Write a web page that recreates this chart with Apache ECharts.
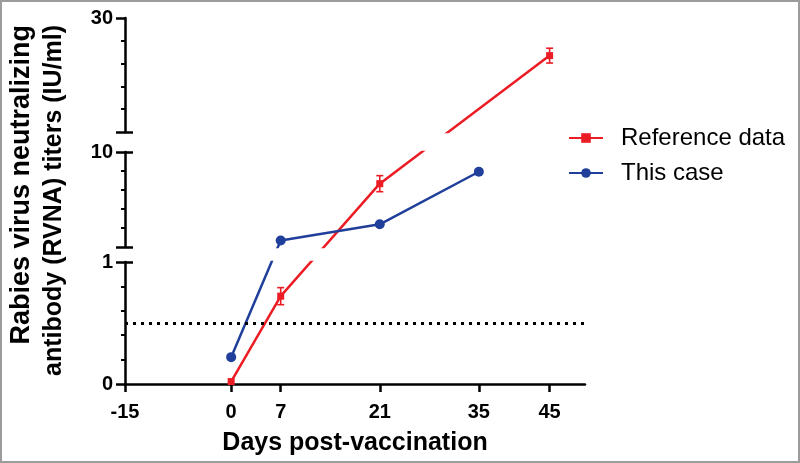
<!DOCTYPE html>
<html><head><meta charset="utf-8">
<script src="https://cdn.jsdelivr.net/npm/echarts@6/dist/echarts.min.js"></script>
<style>
html,body{margin:0;padding:0;background:#fff}
#c{width:800px;height:463px;position:relative}
#frame{position:absolute;left:0;top:0;width:800px;height:463px;box-sizing:border-box;border:2px solid #9c9c9c;pointer-events:none}
</style></head><body>
<div id="c"></div><div id="frame"></div>
<script>
// ---- data ----
const refDays = [0, 7, 21, 45];
const refValues = [0.02, 0.72, 7.0, 23.4];
const refErrors = [0, 0.07, 0.76, 1.3];
const caseDays = [0, 7, 21, 35];
const caseValues = [0.22, 1.62, 3.15, 8.13];
const threshold = 0.5;
const xTicks = [-15, 0, 7, 21, 35, 45];
const xRange = [-15, 50];
// broken y axis: segments bottom -> top (real values)
const segRanges = [[0, 1], [1, 10], [10, 30]];
const segTicks = [[0, 0.2, 0.4, 0.6, 0.8, 1], [1, 2.8, 4.6, 6.4, 8.2, 10], [10, 14, 18, 22, 26, 30]];
const segLabels = [[0, 1], [10], [30]];

// ---- layout of the broken axis ----
const plotBottom = 384, plotLeft = 125, plotWidth = 460;
const segPx = [122, 95, 114];
const gapPx = [15, 20];
const segStart = [0];
for (let k = 1; k < segPx.length; k++) segStart[k] = segStart[k - 1] + segPx[k - 1] + gapPx[k - 1];

function segDisp(k, v) {
  const [lo, hi] = segRanges[k];
  return segStart[k] + (v - lo) / (hi - lo) * segPx[k];
}
function segInv(k, d) {
  const [lo, hi] = segRanges[k];
  return lo + (d - segStart[k]) / segPx[k] * (hi - lo);
}
function toDisp(v) {
  let k = 0;
  while (k < segRanges.length - 1 && v > segRanges[k][1]) k++;
  return segDisp(k, v);
}

const FONT = '"Liberation Sans", Arial, sans-serif';
const RED = '#ec1c24', BLUE = '#1f3f9a';

const grids = [], xAxes = [], yAxes = [], series = [];
for (let k = 0; k < segPx.length; k++) {
  const top = plotBottom - segStart[k] - segPx[k];
  grids.push({left: plotLeft, width: plotWidth, top: top, height: segPx[k]});
  const isBottom = k === 0;
  xAxes.push({
    gridIndex: k, type: 'value', min: xRange[0], max: xRange[1], show: isBottom,
    position: 'bottom',
    axisLine: {onZero: false, lineStyle: {color: '#000', width: 2.5}},
    axisTick: {customValues: xTicks, length: 8, lineStyle: {color: '#000', width: 2.5}},
    axisLabel: {customValues: xTicks, margin: 18, fontSize: 20, fontWeight: 'bold', color: '#000', fontFamily: FONT},
    splitLine: {show: false},
    name: isBottom ? 'Days post-vaccination' : '',
    nameLocation: 'middle', nameGap: 47,
    nameTextStyle: {fontSize: 25, fontWeight: 'bold', color: '#000', fontFamily: FONT}
  });
  const ymin = segStart[k], ymax = segStart[k] + segPx[k];
  const minorVals = segTicks[k].slice(1, -1).map(v => segDisp(k, v));
  const labelVals = segLabels[k].map(v => segDisp(k, v));
  // main axis: line, minor ticks, labels
  yAxes.push({
    gridIndex: k, type: 'value', min: ymin, max: ymax, position: 'left',
    axisLine: {show: true, onZero: false, lineStyle: {color: '#000', width: 2.5}},
    axisTick: {show: true, customValues: minorVals, length: 4, lineStyle: {color: '#000', width: 2}},
    axisLabel: {show: true, customValues: labelVals, showMinLabel: true, showMaxLabel: true,
      formatter: (v) => String(Math.round(segInv(k, v) * 100) / 100),
      margin: 12, fontSize: 20, fontWeight: 'bold', color: '#000', fontFamily: FONT},
    splitLine: {show: false}
  });
  // long outward ticks at segment ends
  yAxes.push({
    gridIndex: k, type: 'value', min: ymin, max: ymax, position: 'left',
    axisLine: {show: false, onZero: false},
    axisTick: {show: true, customValues: [ymin, ymax], length: 9, lineStyle: {color: '#000', width: 2.5}},
    axisLabel: {show: false}, splitLine: {show: false}
  });
  // inward ticks at break ends
  const inside = [];
  if (k > 0) inside.push(ymin);
  if (k < segPx.length - 1) inside.push(ymax);
  yAxes.push({
    gridIndex: k, type: 'value', min: ymin, max: ymax, position: 'left',
    axisLine: {show: false, onZero: false},
    axisTick: {show: true, inside: true, customValues: inside, length: 8, lineStyle: {color: '#000', width: 2.5}},
    axisLabel: {show: false}, splitLine: {show: false}
  });
  const yi = 3 * k;
  const refSeries = {
    type: 'line', name: 'Reference data', xAxisIndex: k, yAxisIndex: yi,
    data: refDays.map((x, i) => [x, toDisp(refValues[i])]),
    symbol: 'rect', symbolSize: 7, showSymbol: true, clip: true, z: 3,
    itemStyle: {color: RED}, lineStyle: {color: RED, width: 2.5}
  };
  if (isBottom) {
    refSeries.markLine = {
      silent: true, symbol: 'none', label: {show: false},
      lineStyle: {color: '#000', width: 3, type: [3, 5]},
      data: [{yAxis: toDisp(threshold)}]
    };
  }
  series.push(refSeries);
  series.push({
    type: 'custom', name: 'refErr', xAxisIndex: k, yAxisIndex: yi, clip: true, z: 3,
    data: refDays.map((x, i) => [x, toDisp(refValues[i] - refErrors[i]), toDisp(refValues[i] + refErrors[i]), refErrors[i]]),
    encode: {x: 0, y: [1, 2]},
    renderItem: function (params, api) {
      if (!api.value(3)) return null;
      const x = api.value(0);
      const lo = api.coord([x, api.value(1)]);
      const hi = api.coord([x, api.value(2)]);
      const w = 3.5;
      const st = {stroke: RED, lineWidth: 1.6};
      return {type: 'group', children: [
        {type: 'line', shape: {x1: lo[0], y1: lo[1], x2: hi[0], y2: hi[1]}, style: st},
        {type: 'line', shape: {x1: lo[0] - w, y1: lo[1], x2: lo[0] + w, y2: lo[1]}, style: st},
        {type: 'line', shape: {x1: hi[0] - w, y1: hi[1], x2: hi[0] + w, y2: hi[1]}, style: st}
      ]};
    }
  });
  series.push({
    type: 'line', name: 'This case', xAxisIndex: k, yAxisIndex: yi,
    data: caseDays.map((x, i) => [x, toDisp(caseValues[i])]),
    symbol: 'circle', symbolSize: 10, showSymbol: true, clip: true, z: 4,
    itemStyle: {color: BLUE}, lineStyle: {color: BLUE, width: 2.5}
  });
}

const chart = echarts.init(document.getElementById('c'), null, {renderer: 'canvas'});
chart.setOption({
  animation: false,
  backgroundColor: '#fff',
  grid: grids, xAxis: xAxes, yAxis: yAxes, series: series,
  legend: {
    data: ['Reference data', 'This case'], orient: 'vertical', left: 563, top: 121,
    itemWidth: 34, itemHeight: 12, itemGap: 11,
    textStyle: {fontSize: 24, color: '#000', fontFamily: FONT, lineHeight: 24, padding: [0, 0, 0, 13]}
  },
  graphic: [{
    type: 'text', x: 38, y: 25, rotation: Math.PI / 2,
    style: {
      text: '{a|Rabies virus neutralizing}\n{b|antibody (RVNA) titers (IU/ml)}',
      align: 'right', verticalAlign: 'middle', textAlign: 'right', textVerticalAlign: 'middle',
      fill: '#000',
      rich: {
        a: {fontSize: 27, fontWeight: 'bold', fontFamily: FONT, lineHeight: 33, fill: '#000', color: '#000'},
        b: {fontSize: 25, fontWeight: 'bold', fontFamily: FONT, lineHeight: 33, fill: '#000', color: '#000'}
      }
    }
  }]
});
</script></body></html>
